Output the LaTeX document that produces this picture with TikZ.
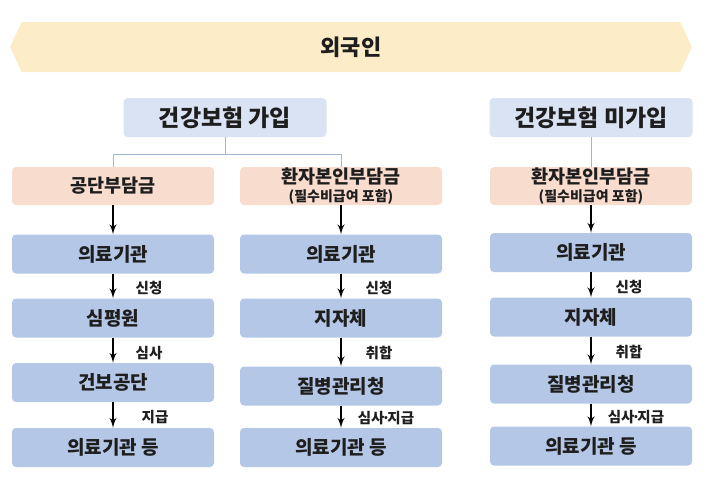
\documentclass[tikz,border=0pt]{standalone}
\usepackage{fontspec}
\setmainfont{Noto Sans CJK KR}
\usepackage{xcolor}
\usepackage{tikz}
\usetikzlibrary{arrows}
\usetikzlibrary{shapes.symbols}
\tikzset{>=latex'}
\definecolor{bannerfill}{RGB}{252,237,200}
\definecolor{planfill}{RGB}{218,227,243}
\definecolor{sharefill}{RGB}{248,221,206}
\definecolor{organfill}{RGB}{181,199,230}
\definecolor{tieline}{RGB}{160,182,210}
\definecolor{ink}{RGB}{30,30,30}

\begin{document}
\begin{tikzpicture}[x=1pt,y=-1pt,text=ink,
	ban/.style={shape=signal,signal to=east and west,signal pointer angle=130,fill=bannerfill,minimum width=682pt,minimum height=50pt,inner sep=0pt,font=\bfseries\fontsize{22}{24}\selectfont},
	plan/.style={rounded corners=4pt,fill=planfill,minimum width=203pt,minimum height=39pt,inner sep=0pt,font=\bfseries\fontsize{23}{25}\selectfont},
	share/.style={rounded corners=4pt,fill=sharefill,minimum width=202pt,minimum height=38pt,inner sep=0pt,align=center,font=\bfseries\fontsize{18.5}{19}\selectfont},
	organ/.style={rounded corners=4pt,fill=organfill,minimum width=202pt,minimum height=39pt,inner sep=0pt,font=\bfseries\fontsize{19}{21}\selectfont},
	lbl/.style={font=\bfseries\fontsize{14.5}{16}\selectfont,inner sep=0pt},
	flow/.style={->,line width=2.4pt,black},
	tie/.style={line width=1pt,tieline}]
	\useasboundingbox (0,0) rectangle (708,480);
	\node[ban] (alien) at (351,47) {외국인};
	\node[plan] (join) at (225,117.5) {건강보험 가입};
	\node[plan] (nojoin) at (591,117.5) {건강보험 미가입};
	\node[share] (corp) at (113,186) {공단부담금};
	\node[share] (self1) at (341,186) {환자본인부담금\\[-1pt]{\fontsize{14}{15}\selectfont (필수비급여 포함)}};
	\node[share] (self2) at (591,186) {환자본인부담금\\[-1pt]{\fontsize{14}{15}\selectfont (필수비급여 포함)}};
	\draw[tie] (join.south) -- ++(0,17) coordinate (split);
	\draw[tie] (split) -| (corp.north);
	\draw[tie] (split) -| (self1.north);
	\draw[tie] (nojoin) -- (self2);
	\node[organ] (hosp1) at (113,254) {의료기관};
	\node[organ] (hira) at (113,318) {심평원};
	\node[organ] (nhis) at (113,382.5) {건보공단};
	\node[organ] (paid1) at (113,447.5) {의료기관 등};
	\node[organ] (hosp2) at (341,254) {의료기관};
	\node[organ] (local2) at (341,318) {지자체};
	\node[organ] (kdca2) at (341,386) {질병관리청};
	\node[organ] (paid2) at (341,447.5) {의료기관 등};
	\node[organ] (hosp3) at (591,252.5) {의료기관};
	\node[organ] (local3) at (591,317) {지자체};
	\node[organ] (kdca3) at (591,384) {질병관리청};
	\node[organ] (paid3) at (591,446) {의료기관 등};
	\draw[flow] (corp)--(hosp1);
	\draw[flow] (hosp1)--(hira);
	\draw[flow] (hira)--(nhis);
	\draw[flow] (nhis)--(paid1);
	\draw[flow] (self1)--(hosp2);
	\draw[flow] (hosp2)--(local2);
	\draw[flow] (local2)--(kdca2);
	\draw[flow] (kdca2)--(paid2);
	\draw[flow] (self2)--(hosp3);
	\draw[flow] (hosp3)--(local3);
	\draw[flow] (local3)--(kdca3);
	\draw[flow] (kdca3)--(paid3);
	\node[lbl] (ask1) at (149,288) {신청};
	\node[lbl] (review1) at (149,353) {심사};
	\node[lbl] (pay1) at (155,417) {지급};
	\node[lbl] (ask2) at (379,288) {신청};
	\node[lbl] (sum2) at (379,353) {취합};
	\node[lbl] (pay2) at (386,418) {심사\kern-3pt·\kern-3pt지급};
	\node[lbl] (ask3) at (629,287) {신청};
	\node[lbl] (sum3) at (629,352) {취합};
	\node[lbl] (pay3) at (636,417) {심사\kern-3pt·\kern-3pt지급};
\end{tikzpicture}
\end{document}
